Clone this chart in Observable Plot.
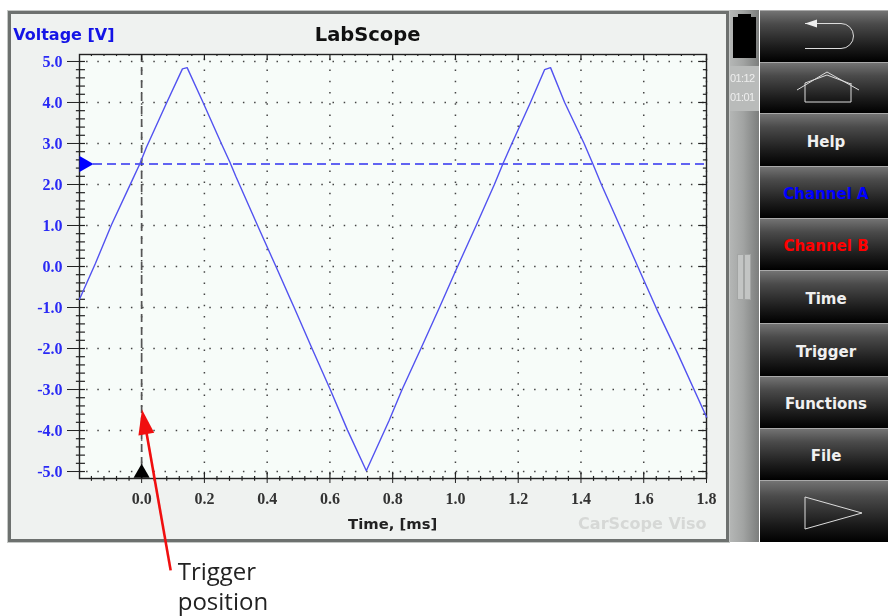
<!DOCTYPE html>
<html><head><meta charset="utf-8">
<script src="https://cdn.jsdelivr.net/npm/d3@7"></script>
<script src="https://cdn.jsdelivr.net/npm/@observablehq/plot@0.6"></script>
<style>
html,body{margin:0;padding:0;background:#fff;width:888px;height:616px;overflow:hidden}
#stage{position:absolute;left:0;top:0;width:888px;height:616px;filter:blur(.45px)}
#bezel{position:absolute;left:8px;top:11px;width:715px;height:525px;background:#eff2f0;border:3px solid #6d716f;outline:1px solid #c5c8c6}
#inner{position:absolute;left:79px;top:54px;width:627px;height:424px;background:#f7fcf9}
#strip{position:absolute;left:730px;top:10px;width:29px;height:532px;background:linear-gradient(90deg,#b4b6b5,#a2a4a3 45%,#7c7e7d)}
#clock{position:absolute;left:730px;top:66px;width:29px;height:42px;padding-top:3px;background:#b9bbba;color:#eee;font:11px "Liberation Sans";letter-spacing:-.6px;line-height:19px}
#batt{position:absolute;left:733px;top:17px;width:23px;height:41px;background:#000}
#batt:before{content:"";position:absolute;left:5px;top:-3px;width:13px;height:4px;background:#000}
.grip{position:absolute;top:254px;width:5px;height:44px;background:#c3c5c4;border:1px solid #a3a5a4}
.btn{position:absolute;left:760px;width:128px;background:linear-gradient(180deg,#737373 0,#4b4b4b 25%,#1c1c1c 70%,#000 100%);border-top:1px solid #a9a9a9;box-sizing:border-box;
 color:#f0f0f0;font:bold 15px "DejaVu Sans";display:flex;align-items:center;justify-content:center;padding:3px 0 0 4px}
.btn svg{position:absolute;left:0;top:0}
#chart{position:absolute;left:0;top:0;z-index:5;width:888px;height:616px}
#chart svg{display:block;background:transparent}
</style></head><body>
<div id="stage">
<div id="bezel"></div><div id="inner"></div>
<div id="strip"></div><div id="batt"></div>
<div id="clock">01:12<br>01:01</div>
<div class="grip" style="left:737px"></div><div class="grip" style="left:744px"></div>
<div id="buttons"></div>
<div id="chart"></div>
</div>
<script>
// Trace
const traceTime = [-0.198,-0.147,-0.096,-0.035,-0.006,0.015,0.079,0.13,0.145,0.194,0.255,0.281,0.3,0.374,0.428,0.486,0.543,0.601,0.656,0.716,0.789,0.83,0.89,0.949,1.005,1.066,1.124,1.151,1.177,1.239,1.284,1.303,1.348,1.41,1.438,1.465,1.497,1.6,1.645,1.707,1.8];
const traceVolt = [-0.8,0.08,1.02,2.02,2.5,2.9,3.98,4.82,4.85,4.03,2.98,2.55,2.2,0.92,0,-1.0,-2.0,-3.0,-3.99,-4.98,-3.75,-3.0,-2.0,-1.0,-0.03,1.0,2.0,2.5,2.95,4.0,4.8,4.85,4.0,3.0,2.5,2.0,1.45,-0.33,-1.1,-2.1,-3.67];
const triggerLevel = 2.5;
const triggerTime = 0;
const xMajor = d3.range(0,10).map(i=>+(i*0.2).toFixed(1));
const xMinor = d3.range(-4,46).map(i=>+(i*0.04).toFixed(2)).filter(v=>Math.abs(v/0.2-Math.round(v/0.2))>1e-6);
const yMajor = d3.range(-5,6);
const yMinor = d3.range(-25,26).map(i=>+(i*0.2).toFixed(1)).filter(v=>!Number.isInteger(v));
const menuLabels = ["","","Help","Channel A","Channel B","Time","Trigger","Functions","File",""];
const menuColors = ["#fff","#fff","#f0f0f0","#0000ff","#ff0000","#f0f0f0","#f0f0f0","#f0f0f0","#f0f0f0","#fff"];
const menuTops = [10,62,113,166,218,270,323,376,428,480,542];
const xLo=-0.198,xHi=1.8,yLo=-5.17,yHi=5.17;

const trace = traceTime.map((t,i)=>({t,v:traceVolt[i]}));

const icons = {
 0:'<svg width="128" height="51"><path d="M45 12.5H81a12.5 12.5 0 0 1 0 25H45" fill="none" stroke="#ddd" stroke-width="1"/><path d="M45 12.5l12-4v8z" fill="#eee"/></svg>',
 1:'<svg width="128" height="51"><path d="M37 27L67 9l32 18M45 20V39H91V20M45 20L67 12l24 9" fill="none" stroke="#ddd" stroke-width="1"/></svg>',
 9:'<svg width="128" height="61"><path d="M45 16V48L102 32Z" fill="none" stroke="#ddd" stroke-width="1"/></svg>'
};
const bt=d3.select("#buttons");
menuLabels.forEach((l,i)=>{
  bt.append("div").attr("class","btn")
   .style("top",menuTops[i]+"px").style("height",(menuTops[i+1]-menuTops[i])+"px")
   .style("color",menuColors[i]).html(icons[i]||l);
});

const arrowHead={draw(c,size){const r=Math.sqrt(size/Math.PI);c.moveTo(0,-r*1.25);c.lineTo(r*0.8,r*1.25);c.lineTo(-r*0.8,r*1.25);c.closePath();}};
const serif={fontFamily:"Liberation Serif",fontWeight:"bold",fontSize:16};
const chart=Plot.plot({
  width:888,height:616,
  marginLeft:79,marginRight:182,marginTop:54,marginBottom:138,
  style:{background:"transparent",overflow:"visible"},
  x:{domain:[xLo,xHi]},
  y:{domain:[yLo,yHi]},
  marks:[
    Plot.ruleY(yMajor,{stroke:"#444",strokeWidth:1.5,strokeDasharray:"1.5 9.7",strokeDashoffset:4.1}),
    Plot.ruleX(xMajor,{stroke:"#444",strokeWidth:1.5,strokeDasharray:"1.5 9.7",strokeDashoffset:6.8}),
    Plot.ruleX([triggerTime],{stroke:"#555",strokeWidth:1.7,strokeDasharray:"8 5"}),
    Plot.ruleY([triggerLevel],{stroke:"#3030f0",strokeWidth:1.3,strokeDasharray:"9 5"}),
    Plot.ruleY(yMinor,{x1:xLo-0.01,x2:xLo+0.019,stroke:"#222",strokeWidth:1.2}),
    Plot.ruleY(yMajor,{x1:xLo,x2:xLo+0.019,stroke:"#222",strokeWidth:1.2}),
    Plot.ruleY(yMinor,{x1:xHi-0.01,x2:xHi,stroke:"#222",strokeWidth:1.2}),
    Plot.ruleY(yMajor,{x1:xHi-0.025,x2:xHi,stroke:"#222",strokeWidth:1.2}),
    Plot.ruleX(xMinor,{y1:yLo-0.07,y2:yLo+0.05,stroke:"#222",strokeWidth:1.2}),
    Plot.ruleX(xMajor,{y1:yLo,y2:yLo+0.15,stroke:"#222",strokeWidth:1.2}),
    Plot.ruleX(xMinor,{y1:yHi-0.05,y2:yHi,stroke:"#222",strokeWidth:1.2}),
    Plot.ruleX(xMajor,{y1:yHi-0.15,y2:yHi,stroke:"#222",strokeWidth:1.2}),
    Plot.axisY({ticks:yMajor,tickSize:12,tickPadding:5,label:null,tickFormat:d=>d3.format(".1f")(d).replace("−","-"),
      stroke:"#222",fill:"#2a2af5",...serif}),
    Plot.axisX({ticks:xMajor,tickSize:5,tickPadding:9,label:null,tickFormat:d3.format(".1f"),stroke:"#222",fill:"#333",...serif}),
    Plot.frame({stroke:"#222",strokeWidth:1.4}),
    Plot.line(trace,{x:"t",y:"v",stroke:"#5252f0",strokeWidth:1.4}),
    Plot.dot([{x:xLo+0.015,y:triggerLevel}],{x:"x",y:"y",symbol:"triangle",r:6,rotate:90,fill:"#0000ff",stroke:"none"}),
    Plot.dot([{x:triggerTime,y:-5.04}],{x:"x",y:"y",symbol:"triangle",r:6,fill:"#000",stroke:"none"}),
    Plot.text(["Voltage [V]"],{x:-0.2,y:5.65,textAnchor:"middle",dx:-15,fontFamily:"DejaVu Sans",fontWeight:"bold",fontSize:16,fill:"#1414e6"}),
    Plot.text(["LabScope"],{x:0.72,y:5.65,fontFamily:"DejaVu Sans",fontWeight:"bold",fontSize:19.5,fill:"#111"}),
    Plot.text(["Time, [ms]"],{x:0.8,y:-6.28,fontFamily:"DejaVu Sans",fontWeight:"bold",fontSize:14.8,fill:"#222"}),
    Plot.text(["CarScope Viso"],{x:1.8,y:-6.28,textAnchor:"end",fontFamily:"DejaVu Sans",fontWeight:"bold",fontSize:16,fill:"#d6d8d6"}),
    Plot.link([{x1:0.0925,y1:-7.41,x2:0.012,y2:-3.9}],{x1:"x1",y1:"y1",x2:"x2",y2:"y2",stroke:"#f00f0f",strokeWidth:2.6}),
    Plot.dot([{x:0.008,y:-3.79}],{x:"x",y:"y",symbol:arrowHead,r:10,rotate:-10,fill:"#f00f0f",stroke:"none"}),
    Plot.text(["Trigger"],{x:0.115,y:-7.46,textAnchor:"start",fontFamily:"Open Sans",fontSize:24,fill:"#222"}),
    Plot.text(["position"],{x:0.115,y:-8.19,textAnchor:"start",fontFamily:"Open Sans",fontSize:24,fill:"#222"})
  ]
});
document.getElementById("chart").append(chart);
</script>
</body></html>
